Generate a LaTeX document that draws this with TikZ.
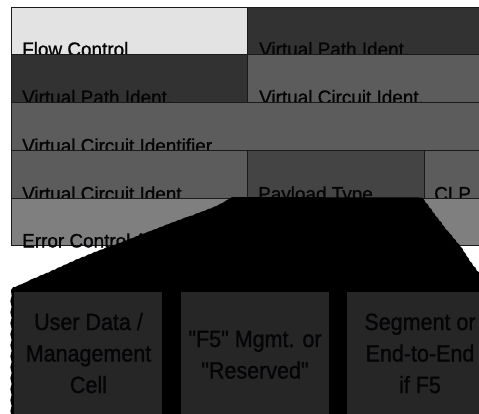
\documentclass[tikz,border=0pt]{standalone}
\usepackage{fontspec}
\setmainfont{Liberation Sans}
\newfontfamily\cellfont[FakeStretch=0.97,FakeBold=1]{Liberation Sans}
\newfontfamily\boxfont[FakeStretch=0.915,FakeBold=1.2]{Liberation Sans}
\usetikzlibrary{calc}
\definecolor{cLight}{HTML}{E3E3E3}
\definecolor{cDark}{HTML}{323232}
\definecolor{cMid}{HTML}{5C5C5C}
\definecolor{cPay}{HTML}{444444}
\definecolor{cErr}{HTML}{7F7F7F}
\definecolor{cBox}{HTML}{262626}
\definecolor{cLine}{HTML}{1A1A1A}
\definecolor{cTxt}{rgb}{0.02,0.02,0.03}
\begin{document}
\begin{tikzpicture}[x=1bp,y=-1bp,
  cell/.style={draw=cLine, line width=0.9bp, anchor=north west, inner sep=0pt, outer sep=0pt},
  lbl/.style={anchor=base west, inner sep=0pt, text=cTxt, font=\cellfont\fontsize{19.5bp}{23bp}\selectfont},
  fieldbox/.style={fill=cBox, anchor=north west, inner sep=0pt, outer sep=0pt, minimum height=150bp},
  boxtxt/.style={anchor=base, inner sep=0pt, text=cTxt, font=\boxfont\fontsize{23.5bp}{31.5bp}\selectfont}]
\useasboundingbox (0,0) rectangle (479,413);
% row 1
\node[cell, fill=cLight, minimum width=235.5bp, minimum height=46.5bp] (fc) at (11.5,7.5) {};
\node[cell, fill=cDark, minimum width=253bp, minimum height=46.5bp] (vp1) at (247,7.5) {};
\node[lbl] (fct) at ($(fc.south west)+(10.5,2)$) {Flow Control};
\node[lbl] (vp1t) at ($(vp1.south west)+(12,2)$) {Virtual Path Ident.};
% row 2
\node[cell, fill=cDark, minimum width=235.5bp, minimum height=48bp] (vp2) at (11.5,54) {};
\node[cell, fill=cMid, minimum width=253bp, minimum height=48bp] (vc1) at (247,54) {};
\node[lbl] (vp2t) at ($(vp2.south west)+(10.5,2)$) {Virtual Path Ident.};
\node[lbl] (vc1t) at ($(vc1.south west)+(12,2)$) {Virtual Circuit Ident.};
% row 3
\node[cell, fill=cMid, minimum width=488.5bp, minimum height=48bp] (vci) at (11.5,102) {};
\node[lbl] (vcit) at ($(vci.south west)+(10.5,2.5)$) {Virtual Circuit Identifier};
% row 4
\node[cell, fill=cMid, minimum width=235.5bp, minimum height=48bp] (vc2) at (11.5,150) {};
\node[cell, fill=cPay, minimum width=177bp, minimum height=48bp] (pt) at (247,150) {};
\node[cell, fill=cMid, minimum width=76bp, minimum height=48bp] (clp) at (424,150) {};
\node[lbl] (vc2t) at ($(vc2.south west)+(10.5,2.5)$) {Virtual Circuit Ident.};
\node[lbl] (ptt) at ($(pt.south west)+(11,2.5)$) {Payload Type};
\node[lbl] (clpt) at ($(clp.south west)+(10,2.5)$) {CLP};
% row 5
\node[cell, fill=cErr, minimum width=488.5bp, minimum height=47bp] (hec) at (11.5,198) {};
\node[lbl] (hect) at ($(hec.south west)+(10.5,2.5)$) {Error Control (CRC)};
% black expansion shape
\fill[black]
  (232,197) -- (422,197.5)
  -- (424.5,200.2) -- (425.5,202.6) -- (428,204.5) -- (429,207.3) -- (431.5,209.2)
  -- (432.5,211.8) -- (434.5,213.6) -- (435.5,216.0) -- (438,218.1) -- (439,220.4)
  -- (441.5,222.3) -- (442.5,225.0) -- (444.5,226.8) -- (445.5,229.2) -- (448,231.0)
  -- (449.5,233.5) -- (452,235.4) -- (453,238.0) -- (455.5,239.7) -- (456.5,242.3)
  -- (459,244.1) -- (460.5,246.6) -- (462.5,248.5) -- (463.5,251.4) -- (465.5,253.3)
  -- (466.5,256.2) -- (468.5,258.0) -- (469.5,261.0) -- (472,263.0) -- (473,265.8)
  -- (475.5,267.6) -- (476.5,270.4) -- (479,272.3) -- (481,275) -- (484,278)
  -- (490,285) -- (505,300) -- (505,430) -- (11,430)
  -- (10.4,420) -- (11.6,416) -- (10.4,411) -- (11.6,406) -- (10.4,400) -- (11.6,395)
  -- (10.4,389) -- (11.6,384) -- (10.4,378) -- (11.6,373) -- (10.4,367) -- (11.6,362)
  -- (10.4,356) -- (11.6,351) -- (10.4,345) -- (11.6,340) -- (10.4,334) -- (11.6,329)
  -- (10.4,323) -- (11.6,318) -- (10.4,312) -- (11.6,307) -- (10.4,301) -- (11.6,296)
  -- (11,290)
  -- (13,287.2) -- (16,286.8) -- (19,284.9) -- (22,284.1) -- (25,282.6) -- (28,281.3)
  -- (31,279.4) -- (34,278.2) -- (37,277.6) -- (40,275.4) -- (43,274.8) -- (46,273.1)
  -- (49,272.4) -- (52,270.3) -- (55,269.7) -- (58,267.6) -- (61,266.9) -- (64,265.0)
  -- (67,264.1) -- (70,262.1) -- (73,261.5) -- (76,259.4) -- (79,258.8) -- (82,257.0)
  -- (85,256.6) -- (88,254.5) -- (91,254.0) -- (94,252.1) -- (97,251.6) -- (100,249.8)
  -- (103,249.2) -- (106,247.4) -- (109,247.0) -- (112,245.2) -- (115,244.8) -- (118,243.0)
  -- (121,242.7) -- (124,240.8) -- (127,240.3) -- (130,238.6) -- (133,238.0) -- (136,236.3)
  -- (139,235.8) -- (142,233.9) -- (145,233.3) -- (148,231.6) -- (151,231.0) -- (154,229.4)
  -- (157,228.8) -- (160,227.0) -- (163,226.5) -- (166,224.6) -- (169,224.0) -- (172,222.4)
  -- (175,221.8) -- (178,220.1) -- (181,219.6) -- (184,217.8) -- (187,217.1) -- (190,216.0)
  -- (193,215.4) -- (196,213.5) -- (199,212.9) -- (202,211.5) -- (205,210.8) -- (208,209.0)
  -- (211,208.4) -- (214,206.7) -- (217,205.9) -- (220,203.9) -- (223,202.8) -- (226,200.5)
  -- (229,199.0) -- cycle;
% bottom boxes
\node[fieldbox, minimum width=148bp] (b1) at (14,292) {};
\node[fieldbox, minimum width=148bp] (b2) at (181,292) {};
\node[fieldbox, minimum width=160bp] (b3) at (347,292) {};
\node[boxtxt] (b1t) at (88.5,330) {\begin{tabular}[t]{@{}c@{}}User Data /\\Management\\Cell\end{tabular}};
\node[boxtxt] (b2t) at (255,347) {\begin{tabular}[t]{@{}c@{}}"F5" Mgmt. or\\"Reserved"\end{tabular}};
\node[boxtxt] (b3t) at (420,330) {\begin{tabular}[t]{@{}c@{}}Segment or\\End-to-End\\if F5\end{tabular}};
\end{tikzpicture}
\end{document}
